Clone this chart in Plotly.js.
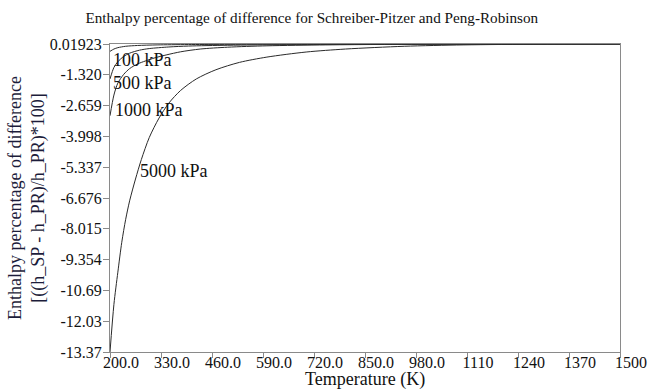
<!DOCTYPE html>
<html>
<head>
<meta charset="utf-8">
<script src="https://cdn.plot.ly/plotly-3.0.1.min.js"></script>
<style>
  html, body { margin: 0; padding: 0; background: #ffffff; }
  #chart { width: 651px; height: 392px; }
</style>
</head>
<body>
<div id="chart"></div>
<script>
// Enthalpy deviation between the Schreiber-Pitzer and Peng-Robinson models, per pressure
const temp100 = [200, 210, 220, 240, 270, 320, 400, 600, 1000, 1500];
const dev100  = [-0.30, -0.20, -0.14, -0.08, -0.045, -0.02, -0.005, 0.008, 0.016, 0.019];

const temp500 = [200, 210, 220, 235, 250, 275, 300, 350, 400, 500, 650, 900, 1200, 1500];
const dev500  = [-1.50, -1.00, -0.75, -0.52, -0.38, -0.25, -0.18, -0.11, -0.07, -0.035, -0.01, 0.008, 0.016, 0.019];

const temp1000 = [200, 210, 220, 235, 250, 270, 290, 315, 345, 380, 430, 500, 600, 750, 900, 1100, 1500];
const dev1000  = [-3.10, -2.20, -1.68, -1.30, -1.05, -0.85, -0.72, -0.58, -0.45, -0.32, -0.20, -0.12, -0.06, -0.02, 0.0, 0.012, 0.019];

const temp5000 = [200, 210, 220, 230, 240, 250, 265, 280, 300, 325, 350, 380, 420, 470, 530, 600, 700, 800, 950, 1100, 1300, 1500];
const dev5000  = [-13.37, -11.3, -9.9, -8.6, -7.6, -6.8, -5.85, -5.0, -4.05, -3.2, -2.55, -2.0, -1.5, -1.1, -0.78, -0.55, -0.33, -0.2, -0.08, -0.02, 0.01, 0.019];

// curve labels and where they sit (temperature, deviation)
const curveNames = ['100 kPa', '500 kPa', '1000 kPa', '5000 kPa'];
const labelTemp  = [208, 208, 212, 276];
const labelDev   = [-0.66, -1.68, -2.85, -5.52];

// axis ticks
const xTickVals = [200, 330, 460, 590, 720, 850, 980, 1110, 1240, 1370, 1500];
const xTickText = ['200.0', '330.0', '460.0', '590.0', '720.0', '850.0', '980.0', '1110', '1240', '1370', '1500'];
const yTickText = ['0.01923', '-1.320', '-2.659', '-3.998', '-5.337', '-6.676', '-8.015', '-9.354', '-10.69', '-12.03', '-13.37'];
const yTickVals = yTickText.map(Number);

const xTitle = 'Temperature (K)';
const yTitle = 'Enthalpy percentage of difference<br>[((h_SP - h_PR)/h_PR)*100]';

const serif = 'Liberation Serif';
const ink = '#111111';
const frame = '#8a8a8a';

const series = [
  [temp100, dev100],
  [temp500, dev500],
  [temp1000, dev1000],
  [temp5000, dev5000]
];

const traces = series.map(([t, d], i) => ({
  type: 'scatter',
  mode: 'lines',
  x: t,
  y: d,
  name: curveNames[i],
  line: { color: '#2a2a2a', width: 1, shape: 'spline', smoothing: 0.8 },
  hoverinfo: 'x+y+name'
}));

const annotations = curveNames.map((txt, i) => ({
  x: labelTemp[i],
  y: labelDev[i],
  xref: 'x',
  yref: 'y',
  text: txt,
  showarrow: false,
  xanchor: 'left',
  yanchor: 'middle',
  xshift: -2,
  font: { family: serif, size: 18, color: ink }
}));

// temperature axis caption, set just under the tick labels
annotations.push({
  x: 0.5,
  y: 0,
  xref: 'paper',
  yref: 'paper',
  yshift: -27,
  text: xTitle,
  showarrow: false,
  xanchor: 'center',
  yanchor: 'middle',
  font: { family: serif, size: 18, color: ink }
});

const layout = {
  width: 651,
  height: 392,
  margin: { l: 110, r: 31, t: 44, b: 40 },
  paper_bgcolor: '#ffffff',
  plot_bgcolor: '#ffffff',
  showlegend: false,
  font: { family: serif, color: ink },
  title: {
    text: 'Enthalpy percentage of difference for Schreiber-Pitzer and Peng-Robinson',
    font: { family: serif, size: 15.2, color: ink },
    xref: 'container',
    x: 0.479,
    xanchor: 'center',
    yref: 'container',
    y: 0.955,
    yanchor: 'middle'
  },
  xaxis: {
    range: [200, 1500],
    tickmode: 'array',
    tickvals: xTickVals,
    ticktext: xTickText,
    ticks: 'outside',
    ticklen: 5,
    tickcolor: frame,
    showline: true,
    linecolor: frame,
    linewidth: 1,
    mirror: true,
    showgrid: false,
    zeroline: false,
    ticklabelshift: 11,
    ticklabelstandoff: -9,
    tickfont: { family: serif, size: 16, color: ink }
  },
  yaxis: {
    range: [-13.37, 0.01923],
    tickmode: 'array',
    tickvals: yTickVals,
    ticktext: yTickText,
    ticks: 'outside',
    ticklen: 6,
    tickcolor: frame,
    showline: true,
    linecolor: frame,
    linewidth: 1,
    mirror: true,
    showgrid: false,
    zeroline: false,
    ticklabelstandoff: -2,
    tickfont: { family: serif, size: 16, color: ink },
    title: {
      text: yTitle,
      font: { family: serif, size: 18, color: '#1c1c3a' },
      standoff: 0
    }
  },
  annotations: annotations
};

Plotly.newPlot('chart', traces, layout, { staticPlot: true, displayModeBar: false });
</script>
</body>
</html>
